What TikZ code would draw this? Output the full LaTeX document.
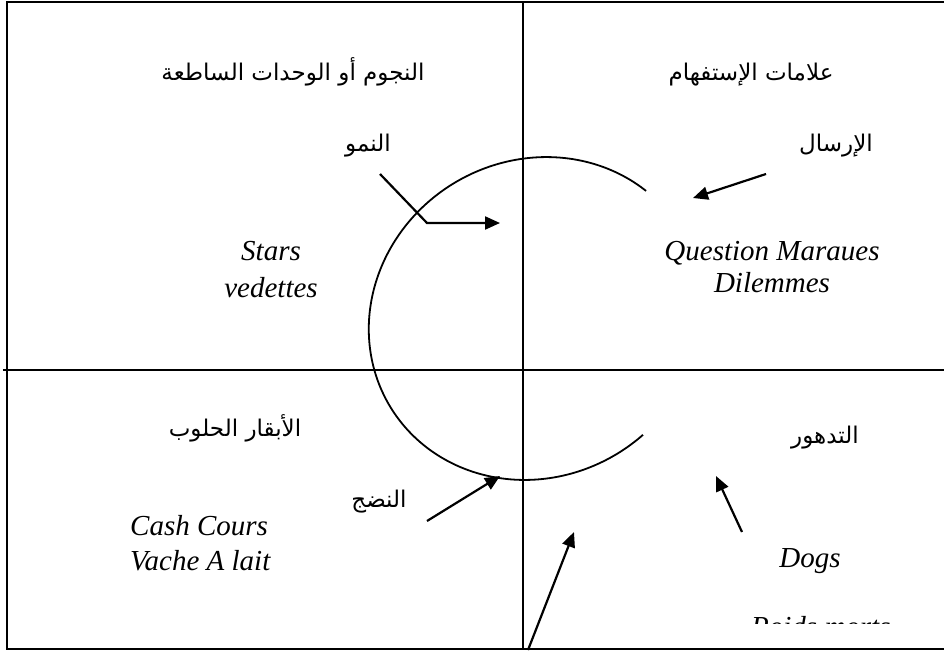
\documentclass[tikz,border=0pt]{standalone}
\usepackage{fontspec}
\setmainfont{Liberation Serif}
\newfontfamily\arabicfont[Script=Arabic]{DejaVu Sans}
\TeXXeTstate=1
\usetikzlibrary{arrows.meta}
\tikzset{
  frameline/.style={line width=2.6pt},
  gridline/.style={line width=2pt},
  cycleline/.style={line width=1.8pt},
  arr/.style={line width=2.2pt, -{Triangle[length=15pt,width=13pt]}},
  artext/.style={font=\arabicfont\fontsize{23}{27}\selectfont, inner sep=0pt},
  latext/.style={font=\itshape\fontsize{29}{35}\selectfont, inner sep=0pt, anchor=base},
}
\begin{document}
\begin{tikzpicture}[x=1pt,y=-1pt]
\useasboundingbox (0,0) rectangle (944,651);
% frame and quadrants
\draw[frameline] (944,2) -- (7,2) -- (7,649) -- (944,649);
\draw[gridline] (3,370) -- (944,370);
\draw[gridline] (523,2) -- (523,649);
% cycle (tilted elliptical arc)
\draw[cycleline] plot[domain=18.4:280.1, samples=120, smooth, variable=\t]
  ({535.5 + 170*cos(\t)*0.849 - 158*sin(\t)*0.5284},
   {318.5 - (170*cos(\t)*0.5284 + 158*sin(\t)*0.849)});
% headers
\node[artext] (hstars) at (293,72) {\beginR النجوم أو الوحدات الساطعة\endR};
\node[artext] (hquest) at (751,75) {\beginR علامات الإستفهام\endR};
\node[artext] (hcash) at (235,428) {\beginR الأبقار الحلوب\endR};
\node[artext] (hdecl) at (825,438) {\beginR التدهور\endR};
% phase labels
\node[artext] (lgrow) at (368,146) {\beginR النمو\endR};
\node[artext] (llaunch) at (836,146) {\beginR الإرسال\endR};
\node[artext] (lmature) at (379,502) {\beginR النضج\endR};
% latin labels
\node[latext] (stars1) at (271,260) {Stars};
\node[latext] (stars2) at (271,297) {vedettes};
\node[latext] (q1) at (772,260) {Question Maraues};
\node[latext] (q2) at (772,292) {Dilemmes};
\node[latext,anchor=base west] (c1) at (130,535) {Cash Cours};
\node[latext,anchor=base west] (c2) at (130,570) {Vache A lait};
\node[latext] (dogs) at (810,567) {Dogs};
\begin{scope}
\clip (700,600) rectangle (944,623);
\node[latext,anchor=base west] (dogs2) at (751,636) {Poids morts};
\end{scope}
% arrows
\coordinate (g0) at (380,174);
\coordinate (g1) at (427,223);
\coordinate (g2) at (500,223);
\draw[arr] (g0) -- (g1) -- (g2);
\coordinate (l0) at (766,174);
\coordinate (l1) at (693,198);
\draw[arr] (l0) -- (l1);
\coordinate (m0) at (427,521);
\coordinate (m1) at (500,476);
\draw[arr] (m0) -- (m1);
\coordinate (d0) at (742,532);
\coordinate (d1) at (716,476);
\draw[arr] (d0) -- (d1);
\coordinate (b0) at (528,650);
\coordinate (b1) at (574,532);
\draw[arr] (b0) -- (b1);
\end{tikzpicture}
\end{document}
